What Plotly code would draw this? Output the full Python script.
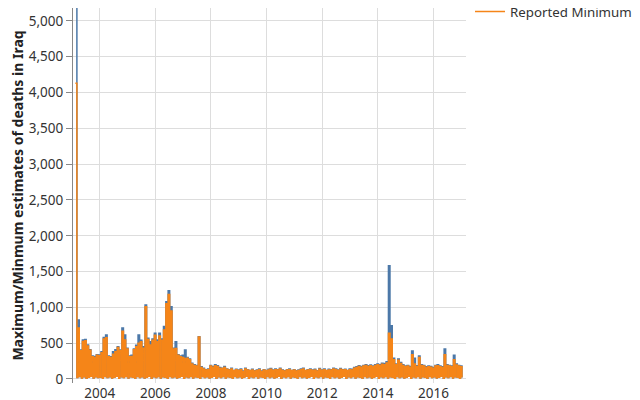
import pandas as pd
import plotly.graph_objects as go

# Monthly values, March 2003 .. January 2017
months = pd.date_range("2003-03-01", "2017-01-01", freq="MS")

reported_max = [
    5293, 824, 405, 545, 550, 475, 410, 320, 315, 340,              # 2003 (Mar-Dec)
    335, 380, 580, 615, 320, 310, 380, 410, 450, 405, 712, 615,     # 2004
    430, 320, 330, 420, 470, 615, 540, 450, 1033, 570, 520, 560,    # 2005
    640, 545, 640, 560, 733, 1080, 1233, 1010, 430, 521, 340, 320,  # 2006
    330, 405, 300, 280, 220, 200, 190, 591, 170, 150, 130, 140,     # 2007
    190, 175, 200, 185, 160, 150, 175, 140, 130, 150, 120, 135,     # 2008
    125, 140, 110, 150, 130, 120, 135, 115, 125, 140, 110, 130,     # 2009
    120, 135, 145, 125, 140, 130, 150, 125, 115, 130, 140, 120,     # 2010
    130, 115, 125, 140, 150, 120, 130, 140, 125, 135, 115, 145,     # 2011
    125, 140, 120, 135, 130, 150, 140, 125, 145, 130, 135, 120,     # 2012
    140, 135, 160, 170, 185, 175, 190, 200, 185, 195, 180, 200,     # 2013
    210, 200, 220, 215, 240, 1583, 745, 290, 210, 280, 230, 200,    # 2014
    180, 190, 175, 390, 290, 185, 320, 200, 190, 170, 180, 175,     # 2015
    160, 190, 200, 180, 170, 420, 200, 190, 180, 330, 210, 190,     # 2016
    180,                                                            # 2017
]

reported_min = [
    4130, 712, 395, 525, 535, 460, 400, 310, 300, 330,              # 2003 (Mar-Dec)
    325, 365, 560, 575, 310, 300, 345, 380, 440, 395, 666, 545,     # 2004
    420, 310, 315, 410, 450, 500, 520, 430, 1010, 550, 475, 540,    # 2005
    610, 520, 600, 540, 685, 1050, 1180, 950, 420, 425, 330, 310,   # 2006
    300, 285, 290, 270, 210, 190, 180, 585, 160, 140, 125, 130,     # 2007
    180, 165, 185, 175, 150, 145, 160, 135, 125, 140, 115, 130,     # 2008
    120, 130, 105, 140, 125, 115, 125, 110, 120, 130, 105, 125,     # 2009
    115, 125, 135, 120, 130, 125, 140, 120, 110, 125, 130, 115,     # 2010
    125, 110, 120, 130, 140, 115, 125, 130, 120, 125, 110, 135,     # 2011
    120, 130, 115, 125, 125, 140, 130, 120, 135, 125, 130, 115,     # 2012
    130, 125, 150, 160, 175, 165, 180, 190, 175, 185, 170, 190,     # 2013
    200, 190, 205, 200, 225, 640, 560, 270, 200, 260, 215, 190,     # 2014
    170, 180, 165, 340, 210, 175, 300, 190, 180, 160, 170, 165,     # 2015
    150, 180, 185, 170, 160, 340, 190, 180, 170, 270, 195, 180,     # 2016
    170,                                                            # 2017
]

# lowest daily reading inside each month
monthly_low = [
    20, 35, 15, 30, 10, 25, 40, 15, 30, 20,
    25, 10, 35, 20, 30, 15, 25, 40, 10, 30, 20, 35,
    15, 30, 25, 10, 35, 20, 30, 15, 25, 40, 10, 30,
    20, 35, 15, 30, 25, 10, 35, 20, 30, 15, 25, 40,
    10, 30, 20, 35, 15, 30, 25, 10, 35, 20, 30, 15,
    25, 40, 10, 30, 20, 35, 15, 30, 25, 10, 35, 20,
    30, 15, 25, 40, 10, 30, 20, 35, 15, 30, 25, 10,
    35, 20, 30, 15, 25, 40, 10, 30, 20, 35, 15, 30,
    25, 10, 35, 20, 30, 15, 25, 40, 10, 30, 20, 35,
    15, 30, 25, 10, 35, 20, 30, 15, 25, 40, 10, 30,
    20, 35, 15, 30, 25, 10, 35, 20, 30, 15, 25, 40,
    10, 30, 20, 35, 15, 30, 25, 10, 35, 20, 30, 15,
    25, 40, 10, 30, 20, 35, 15, 30, 25, 10, 35, 20,
    30, 15, 25, 40, 10, 30, 20, 35, 15, 30, 25, 10,
    20,
]

y_ticks = [0, 500, 1000, 1500, 2000, 2500, 3000, 3500, 4000, 4500, 5000]

assert len(reported_max) == len(months) == len(reported_min) == len(monthly_low)


def series(vals):
    xs, ys = [], []
    for d, v, lo in zip(months, vals, monthly_low):
        xs.append(d - pd.Timedelta(days=13))
        ys.append(v)
        xs.append(d + pd.Timedelta(days=7))
        ys.append(lo)
    return xs, ys


FONT = "Noto Sans"
fig = go.Figure()
for name, vals, color in [
    ("Reported Maximum", reported_max, "#4c78a8"),
    ("Reported Minimum", reported_min, "#f58518"),
]:
    xs, ys = series(vals)
    fig.add_trace(go.Scatter(x=xs, y=ys, mode="lines", name=name,
                             line=dict(color=color, width=1.5, shape="hv")))

fig.update_layout(
    width=640, height=400,
    margin=dict(l=65, r=182, t=0, b=25, pad=0, autoexpand=False),
    plot_bgcolor="white", paper_bgcolor="white",
    font=dict(family=FONT, size=13, color="#333"),
    showlegend=True,
    legend=dict(x=1.0102, xanchor="left", y=1.085, yanchor="top",
                font=dict(family=FONT, size=13.3, color="#333"),
                bgcolor="rgba(0,0,0,0)", tracegroupgap=0),
)
fig.update_xaxes(
    type="date", range=["2003-01-16", "2017-03-02"],
    tick0="2004-01-01", dtick="M24", tickformat="%Y",
    showgrid=True, gridcolor="#ddd", gridwidth=1,
    showline=False, zeroline=False, ticks="", automargin=False,
    ticklabelstandoff=0,
    tickfont=dict(family=FONT, size=13.5, color="#333"),
)
fig.update_yaxes(
    range=[-56, 5181], tickvals=y_ticks, tickformat=",",
    showgrid=True, gridcolor="#ddd", gridwidth=1, zeroline=False,
    showline=True, linecolor="#888", linewidth=1, automargin=False,
    ticks="outside", ticklen=6, tickcolor="#888",
    tickfont=dict(family=FONT, size=13.5, color="#333"),
    title=dict(text="<b>Maximum/Minmum estimates of deaths in Iraq</b>",
               font=dict(family=FONT, size=14, color="#222"), standoff=4),
)

fig.write_html("out.html")
